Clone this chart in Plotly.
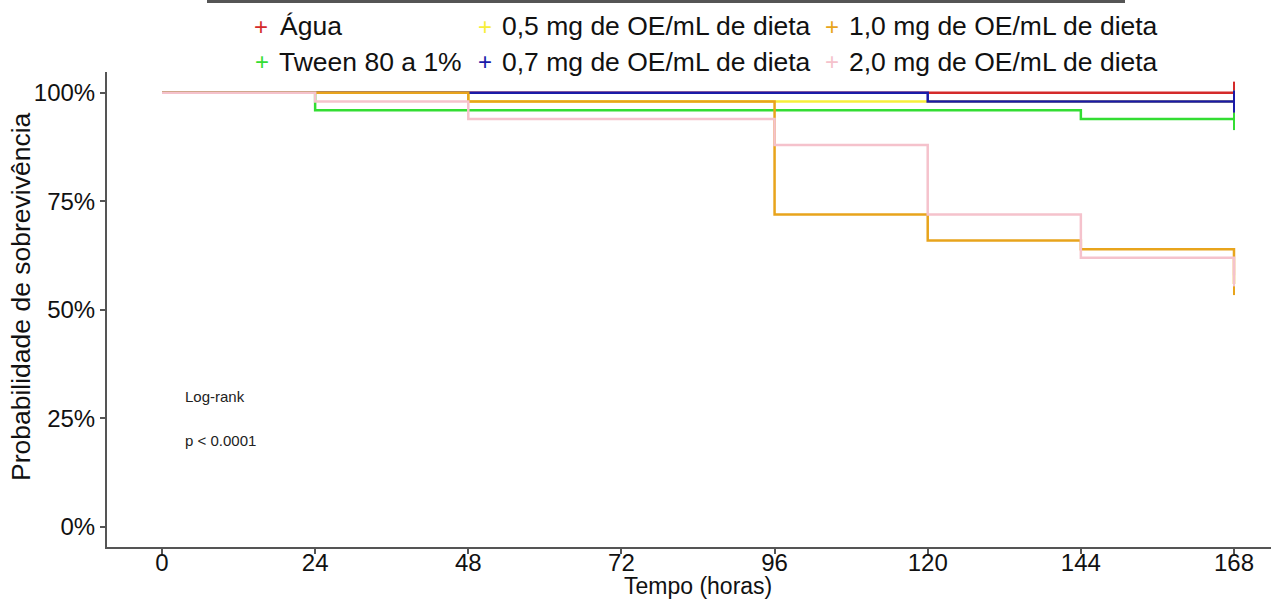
import plotly.graph_objects as go

# ---------------- data ----------------
groups = ["Água", "Tween 80 a 1%", "0,5 mg de OE/mL de dieta",
          "0,7 mg de OE/mL de dieta", "1,0 mg de OE/mL de dieta",
          "2,0 mg de OE/mL de dieta"]
colors = ["#D42A2A", "#33DD33", "#F7EE3A", "#1A1AA8", "#E8A41C", "#F5C2CC"]

agua_t = [0, 168]
agua_s = [100, 100]
tween_t = [0, 24, 144, 168]
tween_s = [100, 96, 94, 94]
d05_t = [0, 48, 168]
d05_s = [100, 98, 98]
d07_t = [0, 120, 168]
d07_s = [100, 98, 98]
d10_t = [0, 48, 96, 120, 144, 168]
d10_s = [100, 98, 72, 66, 64, 56]
d20_t = [0, 24, 48, 96, 120, 144, 168]
d20_s = [100, 98, 94, 88, 72, 62, 58]

x_ticks = [0, 24, 48, 72, 96, 120, 144, 168]
y_ticks = [0, 25, 50, 75, 100]
y_tick_labels = ["0%", "25%", "50%", "75%", "100%"]

series_t = [agua_t, tween_t, d05_t, d07_t, d10_t, d20_t]
series_s = [agua_s, tween_s, d05_s, d07_s, d10_s, d20_s]

FONT = "Liberation Sans, Arial, sans-serif"
W, H = 1271, 599
ML, MR, MT, MB = 107, 0, 72, 52
PW, PH = W - ML - MR, H - MT - MB


def px_x(px):
    return (px - ML) / PW


def px_y(py):
    return (H - MB - py) / PH


fig = go.Figure()
for name, col, t, s in zip(groups, colors, series_t, series_s):
    fig.add_trace(go.Scatter(
        x=t, y=s, mode="lines", line=dict(color=col, width=2.5, shape="hv"),
        name=name, showlegend=False, hoverinfo="x+y+name"))
    # censor mark at the last time
    fig.add_trace(go.Scatter(
        x=[t[-1]], y=[s[-1]], mode="markers",
        marker=dict(symbol="line-ns", size=16, line=dict(color=col, width=2)),
        showlegend=False, hoverinfo="skip"))

# ---------------- legend drawn as text ----------------
leg_plus_x = [261, 262, 485, 485, 832, 832]
leg_text_x = [278, 277, 500, 500, 847, 847]
leg_y = [26, 62, 26, 62, 26, 62]
for i, (name, col) in enumerate(zip(groups, colors)):
    fig.add_annotation(x=px_x(leg_plus_x[i]), y=px_y(leg_y[i]), xref="paper", yref="paper",
                       text="+", showarrow=False, xanchor="center", yanchor="middle",
                       font=dict(family=FONT, size=24, color=col))
    fig.add_annotation(x=px_x(leg_text_x[i]), y=px_y(leg_y[i]), xref="paper", yref="paper",
                       text=name, showarrow=False, xanchor="left", yanchor="middle",
                       font=dict(family=FONT, size=26.5, color="#111111"))

# log-rank text
fig.add_annotation(x=px_x(183), y=px_y(396), xref="paper", yref="paper", text="Log-rank",
                   showarrow=False, xanchor="left", yanchor="middle",
                   font=dict(family=FONT, size=15, color="#222222"))
fig.add_annotation(x=px_x(183), y=px_y(440), xref="paper", yref="paper", text="p < 0.0001",
                   showarrow=False, xanchor="left", yanchor="middle",
                   font=dict(family=FONT, size=15, color="#222222"))

# axis titles
fig.add_annotation(x=px_x(698), y=px_y(586), xref="paper", yref="paper", text="Tempo (horas)",
                   showarrow=False, xanchor="center", yanchor="middle",
                   font=dict(family=FONT, size=23, color="#111111"))
fig.add_annotation(x=px_x(21), y=px_y(297), xref="paper", yref="paper",
                   text="Probabilidade de sobrevivência", textangle=-90,
                   showarrow=False, xanchor="center", yanchor="middle",
                   font=dict(family=FONT, size=26.5, color="#111111"))

# top border fragment
fig.add_shape(type="line", xref="paper", yref="paper",
              x0=px_x(207), x1=px_x(1125), y0=px_y(1.5), y1=px_y(1.5),
              line=dict(color="#555555", width=3))

fig.update_layout(
    width=W, height=H,
    margin=dict(l=ML, r=MR, t=MT, b=MB, autoexpand=False),
    paper_bgcolor="white", plot_bgcolor="white",
    font=dict(family=FONT, color="#111111"),
    xaxis=dict(range=[-8.62, 173.8], tickvals=x_ticks, ticktext=[str(v) for v in x_ticks],
               showgrid=False, zeroline=False, showline=True, linecolor="#555555", linewidth=2,
               ticks="outside", ticklen=5, tickcolor="#555555", tickwidth=1.5,
               ticklabelstandoff=-12,
               tickfont=dict(size=24, color="#111111"), automargin=False),
    yaxis=dict(range=[-4.6, 104.8], tickvals=y_ticks, ticktext=y_tick_labels,
               showgrid=False, zeroline=False, showline=True, linecolor="#555555", linewidth=2,
               ticks="outside", ticklen=5, tickcolor="#555555", tickwidth=1.5,
               tickfont=dict(size=24, color="#111111"), automargin=False),
)

fig.write_html("out.html", config={"displayModeBar": False},
               post_script="document.body.style.margin='0px';document.body.style.overflow='hidden';")
